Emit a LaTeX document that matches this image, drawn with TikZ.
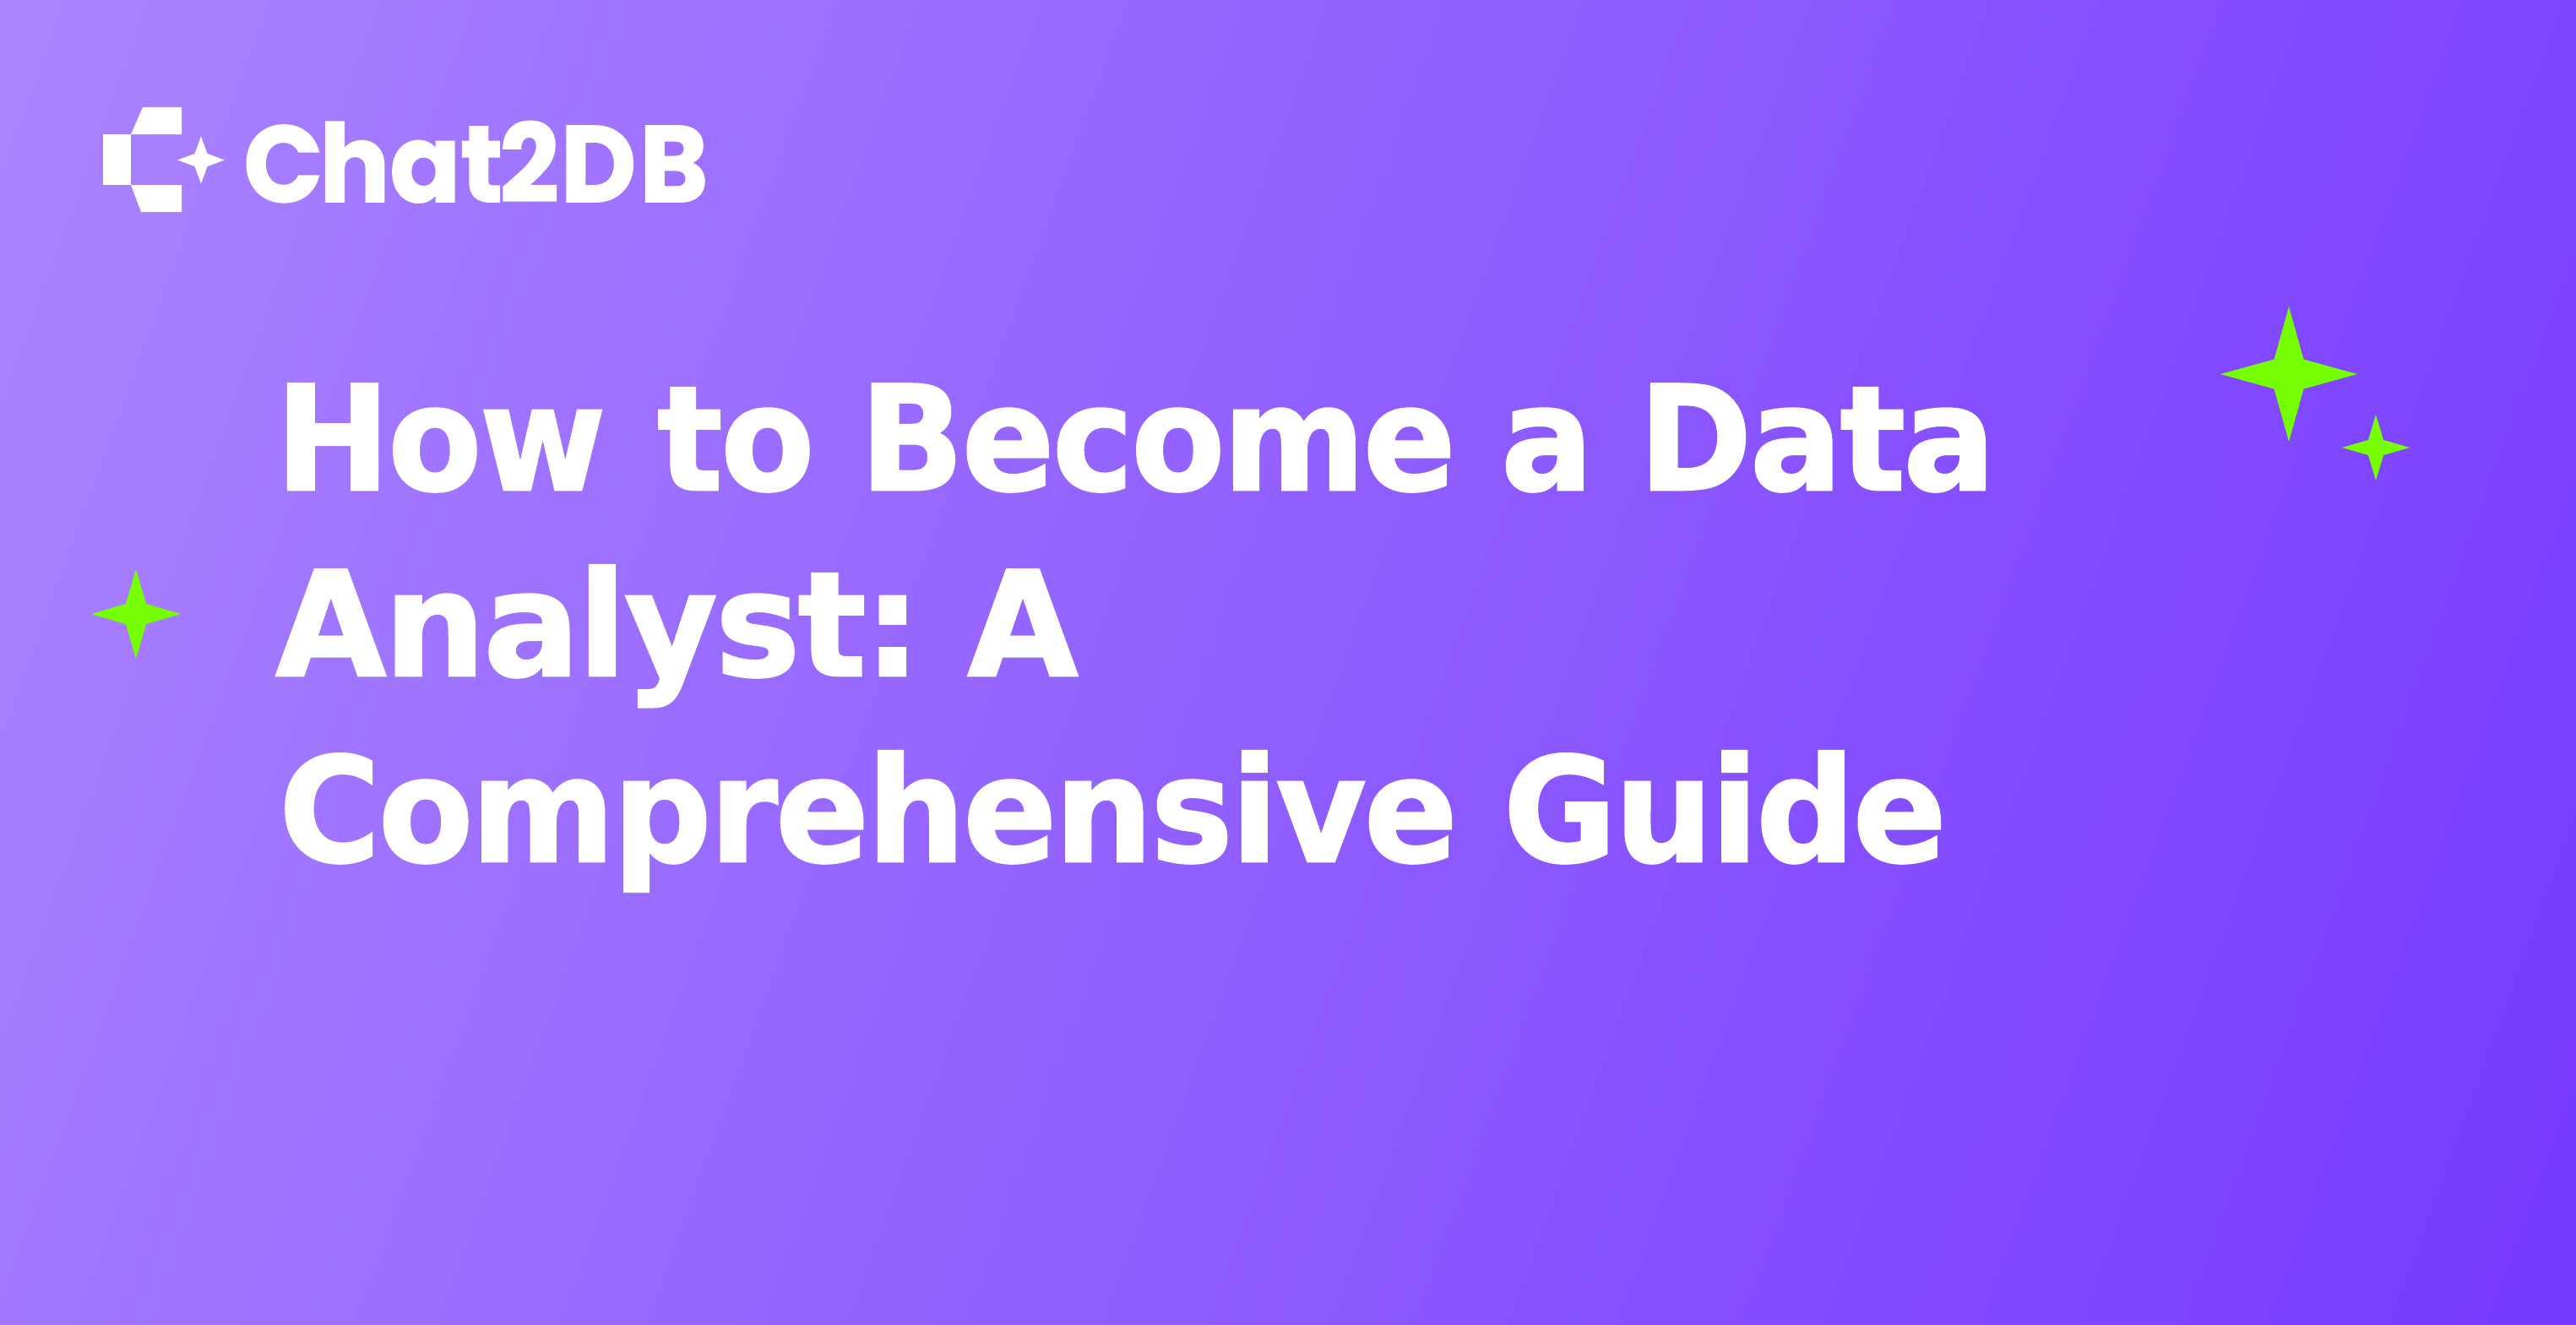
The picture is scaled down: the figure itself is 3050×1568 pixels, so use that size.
\documentclass[tikz,border=0pt]{standalone}
\usepackage{fontspec}
\usepackage{graphicx}
\newfontfamily\titlefont{DejaVu Sans Bold}[FakeBold=1.6,LetterSpace=-1.5]
\newfontfamily\logofont{Poppins Bold}[FakeBold=1.5]
\definecolor{bgA}{HTML}{AB84FF}
\definecolor{bgB}{HTML}{7639FF}
\definecolor{spark}{HTML}{76FF00}
\newcommand{\sparkle}[7][spark]{% colour, cx, cy, hx, hy, inner x, inner y
  \fill[#1] (#2,#3-#5) -- (#2+#6,#3-#7) -- (#2+#4,#3) -- (#2+#6,#3+#7) -- (#2,#3+#5) -- (#2-#6,#3+#7) -- (#2-#4,#3) -- (#2-#6,#3-#7) -- cycle;}
\tikzset{titleline/.style={anchor=base west,inner sep=0pt,text=white,font=\titlefont\fontsize{86pt}{86pt}\selectfont},
 logotext/.style={anchor=base west,inner sep=0pt,text=white,font=\logofont\fontsize{64pt}{64pt}\selectfont}}
\begin{document}
\begin{tikzpicture}[x=0.5pt,y=-0.5pt]
\useasboundingbox (0,0) rectangle (3050,1568);
\begin{scope}
\clip (0,0) rectangle (3050,1568);
\shade[top color=bgB,bottom color=bgA,shading angle=-110] (1525-1701,784-1701) rectangle (1525+1701,784+1701);
\end{scope}
% logo
\fill[white] (169,127) -- (215,127) -- (215,159) -- (155,159) -- cycle;
\fill[white] (122,159) rectangle (155,219);
\fill[white] (155,219) -- (215,219) -- (215,251) -- (167,251) -- cycle;
\sparkle[white]{238}{189.5}{28}{28}{7.5}{7.5}
\node[logotext] (logo) at (288,239) {\resizebox{275pt}{\height}{C\kern-2pt hat\kern-2pt 2\kern1pt D\kern2pt B}};
% sparkles
\sparkle{2710}{443}{81}{80}{17.5}{17.5}
\sparkle{2813}{530}{40}{39}{9}{9}
\sparkle{161}{727}{53}{53}{12}{12}
% title
\node[titleline] (l1) at (326,580) {\resizebox{1018pt}{\height}{How\kern4pt{} to Become a Data}};
\node[titleline] (l2) at (326,800) {\resizebox{475pt}{\height}{Analyst:\kern-10pt{} A}};
\node[titleline] (l3) at (330,1020) {\resizebox{987pt}{\height}{Comprehensive Guide}};
\end{tikzpicture}
\end{document}
